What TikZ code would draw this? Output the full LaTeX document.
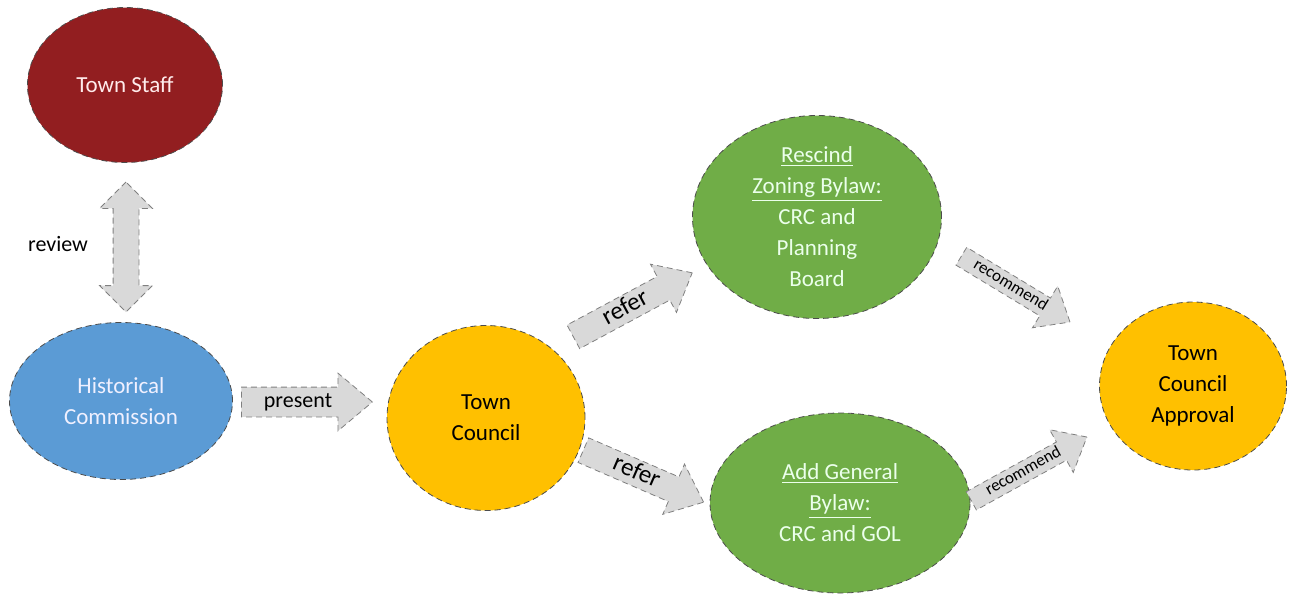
\documentclass[tikz,border=0pt]{standalone}
\usepackage{fontspec}
\setmainfont{Carlito}
\usetikzlibrary{shapes.geometric,shapes.arrows,positioning}

\definecolor{staffred}{RGB}{146,30,32}
\definecolor{histblue}{RGB}{91,155,213}
\definecolor{councilgold}{RGB}{255,192,0}
\definecolor{bylawgreen}{RGB}{112,173,71}
\definecolor{arrowgray}{RGB}{217,217,217}

\begin{document}
\begin{tikzpicture}[
  x=0.5pt, y=-0.5pt,
  body/.style={ellipse, draw=black!70, densely dashed, line width=0.4pt,
    inner sep=0pt, align=center, font=\fontsize{11.5}{15.5}\selectfont},
  flow/.style={single arrow, draw=black!50, densely dashed, fill=arrowgray,
    line width=0.4pt, anchor=tail, single arrow head extend=7pt,
    single arrow tip angle=80, inner xsep=2pt, inner ysep=1.25pt,
    text height=7.5pt, text depth=2pt, font=\fontsize{11}{13}\selectfont},
  referflow/.style={flow, inner ysep=1pt, text height=8.5pt,
    text depth=2.5pt, font=\fontsize{12.5}{14}\selectfont},
  smallflow/.style={flow, inner ysep=1.5pt, text height=5.5pt,
    text depth=1.5pt, font=\fontsize{8.5}{9}\selectfont},
]
  \useasboundingbox (0,0) rectangle (1301,596);

  % Ellipses
  \node[body, fill=staffred, text=red!8, minimum width=97.5pt,
    minimum height=77.5pt] (staff) at (125,85) {Town Staff};
  \node[body, fill=histblue, text=blue!6, minimum width=111.5pt,
    minimum height=78.5pt] (hist) at (121,401) {Historical\\Commission};
  \node[body, fill=councilgold, minimum width=99pt,
    minimum height=92.5pt] (council) at (486,418) {Town\\Council};
  \node[body, fill=bylawgreen, text=green!8, minimum width=124.5pt,
    minimum height=101.5pt] (rescind) at (817,217)
    {\underline{Rescind}\\\underline{Zoning Bylaw:}\\CRC and\\Planning\\Board};
  \node[body, fill=bylawgreen, text=green!8, minimum width=130pt,
    minimum height=90pt] (addlaw) at (840,503)
    {\underline{Add General}\\\underline{Bylaw:}\\CRC and GOL};
  \node[body, fill=councilgold, minimum width=93.5pt,
    minimum height=84pt] (approval) at (1193,386)
    {Town\\Council\\Approval};

  % Block arrows
  \node[double arrow, draw=black!50, densely dashed, fill=arrowgray,
    line width=0.4pt, rotate=90, inner sep=6.25pt, minimum height=65pt,
    double arrow head extend=6.75pt] (review) at (126,247) {};
  \node[font=\fontsize{11}{13}\selectfont] (reviewlbl) at (58,244) {review};

  \node[flow, inner ysep=2.5pt, minimum height=65.5pt] (present)
    at (241,402) {present};
  \node[referflow, rotate=28.3, minimum height=67.5pt] (referup)
    at (573,337) {refer};
  \node[referflow, rotate=-23.4, minimum height=65.5pt] (referdown)
    at (583,450) {refer};
  \node[smallflow, rotate=-31.2, minimum height=63.5pt] (recup)
    at (961,256) {recommend};
  \node[smallflow, rotate=28.9, minimum height=66pt] (recdown)
    at (971,501) {recommend};
\end{tikzpicture}
\end{document}
